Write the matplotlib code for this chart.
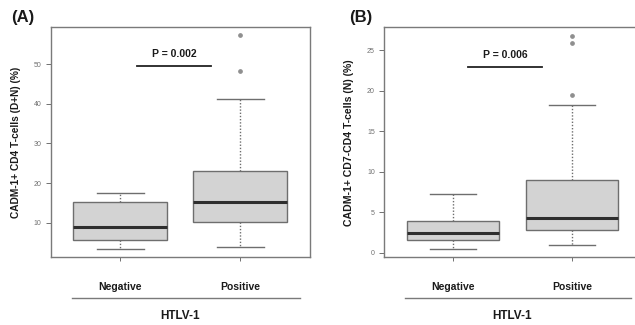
import matplotlib
matplotlib.use("Agg")
import matplotlib.pyplot as plt

# --- data ---------------------------------------------------------------
groups = ["Negative", "Positive"]

# (A) CADM-1+ CD4 T-cells (D+N)
a_whislo = [3.4, 3.9]
a_q1 = [5.6, 10.2]
a_med = [8.9, 15.3]
a_q3 = [15.3, 23.1]
a_whishi = [17.6, 41.2]
a_fliers = [[], [48.3, 57.3]]
a_p_text = "P = 0.002"
a_p_y = 49.6

# (B) CADM-1+ CD7- CD4 T-cells (N)
b_whislo = [0.5, 1.0]
b_q1 = [1.55, 2.85]
b_med = [2.5, 4.25]
b_q3 = [3.9, 9.0]
b_whishi = [7.3, 18.2]
b_fliers = [[], [19.5, 25.9, 26.75]]
b_p_text = "P = 0.006"
b_p_y = 22.9

a_ticks = [10, 20, 30, 40, 50]
b_ticks = [0, 5, 10, 15, 20, 25]

C = {
    "box": "#d3d3d3",
    "edge": "#6e6e6e",
    "median": "#2e2e2e",
    "spine": "#7a7a7a",
    "tick": "#707070",
    "text": "#1a1a1a",
}

plt.rcParams["font.family"] = ["Liberation Sans", "DejaVu Sans"]


def stats(lo, q1, med, q3, hi, fl):
    return [
        dict(whislo=lo[i], q1=q1[i], med=med[i], q3=q3[i], whishi=hi[i],
             fliers=fl[i], label=groups[i])
        for i in range(len(groups))
    ]


def panel(ax, st, ylim, ticks, ylabel, ylab_size, ylab_pad, p_text, p_y,
          p_x0, p_x1, p_text_dy, letter, letter_x):
    ax.bxp(
        st,
        positions=[1, 2],
        widths=0.78,
        capwidths=0.39,
        patch_artist=True,
        boxprops=dict(facecolor=C["box"], edgecolor=C["edge"], linewidth=1.0),
        medianprops=dict(color=C["median"], linewidth=2.2),
        whiskerprops=dict(color=C["edge"], linewidth=1.0, linestyle=(0, (1, 1.3))),
        capprops=dict(color=C["edge"], linewidth=1.0),
        flierprops=dict(marker="o", markersize=2.4, markerfacecolor="#8f8f8f",
                        markeredgecolor="#8f8f8f"),
    )
    ax.set_xlim(0.42, 2.58)
    ax.set_ylim(*ylim)
    ax.set_yticks(ticks)
    ax.tick_params(axis="y", labelsize=5, colors=C["tick"], length=3.5,
                   width=0.7, pad=3)
    ax.tick_params(axis="x", length=3.0, width=0.7, colors=C["tick"],
                   labelcolor=C["text"], labelsize=7.5, pad=15)
    ax.set_xticks([1, 2])
    ax.set_xticklabels(groups, fontweight="bold")
    for spine in ax.spines.values():
        spine.set_color(C["spine"])
        spine.set_linewidth(1.0)
    ax.set_ylabel(ylabel, fontsize=ylab_size, fontweight="bold",
                  color=C["text"], labelpad=ylab_pad)

    # significance bar
    ax.plot([p_x0, p_x1], [p_y, p_y], color="#222222", linewidth=1.3)
    ax.text((p_x0 + p_x1) / 2, p_y + p_text_dy, p_text, ha="center",
            va="center", fontsize=7.5, fontweight="bold", color=C["text"])

    # group bracket and factor label
    ax.plot([0.6, 2.5], [-0.177, -0.177], color=C["spine"], linewidth=1.0,
            transform=ax.get_xaxis_transform(), clip_on=False)
    ax.text(1.5, -0.254, "HTLV-1", ha="center", va="center", fontsize=8.5,
            fontweight="bold", color=C["text"],
            transform=ax.get_xaxis_transform())
    ax.text(letter_x, 0.945, letter, ha="center", va="center", fontsize=12,
            fontweight="bold", color=C["text"],
            transform=ax.figure.transFigure)


fig = plt.figure(figsize=(6.35, 3.25), dpi=100)
ax_a = fig.add_axes([0.0798, 0.2083, 0.408, 0.7095])
ax_b = fig.add_axes([0.6047, 0.2083, 0.4047, 0.7077])

panel(ax_a, stats(a_whislo, a_q1, a_med, a_q3, a_whishi, a_fliers),
      (1.24, 59.46), a_ticks, "CADM-1+ CD4 T-cells (D+N) (%)", 7.3, 9.5,
      a_p_text, a_p_y, 1.14, 1.76, 3.0, "(A)", 23 / 635)
panel(ax_b, stats(b_whislo, b_q1, b_med, b_q3, b_whishi, b_fliers),
      (-0.55, 27.8), b_ticks, "CADM-1+ CD7-CD4 T-cells (N) (%)", 7.6, 9.5,
      b_p_text, b_p_y, 1.13, 1.75, 1.5, "(B)", 361 / 635)

fig.savefig("out.png", dpi=100)
